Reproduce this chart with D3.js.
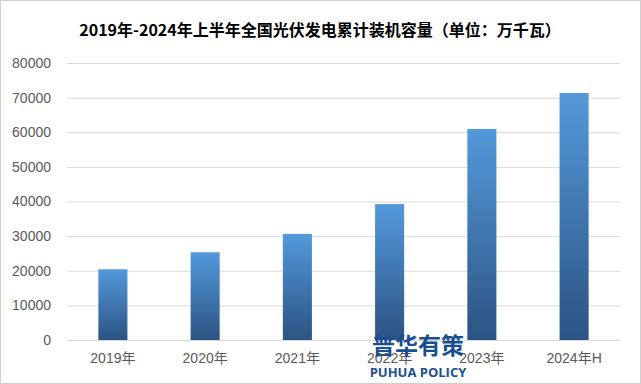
<!DOCTYPE html>
<html><head><meta charset="utf-8">
<script src="https://cdn.jsdelivr.net/npm/d3@7/dist/d3.min.js"></script>
<style>body{margin:0;background:#fff}svg{display:block}</style>
</head><body><svg id="c" width="641" height="384"></svg>
<script>
const categories = ["2019年","2020年","2021年","2022年","2023年","2024年H"];
const values = [20430, 25343, 30656, 39261, 60949, 71350];
const yTicks = [0,10000,20000,30000,40000,50000,60000,70000,80000];
const title = "2019年-2024年上半年全国光伏发电累计装机容量（单位：万千瓦）";

const svg = d3.select("#c");
const W = 641, H = 384;
const m = {left: 67, right: 21, top: 63, bottom: 44};
const x = d3.scaleBand().domain(categories).range([m.left, W - m.right]).paddingInner(0.685).paddingOuter(0.34);
const y = d3.scaleLinear().domain([0, 80000]).range([H - m.bottom, m.top]);

svg.append("rect").attr("x",0.5).attr("y",0.5).attr("width",W-1).attr("height",H-1)
  .attr("fill","#fff").attr("stroke","#d0d0d0");

const defs = svg.append("defs");
const g = defs.append("linearGradient").attr("id","bg").attr("x1",0).attr("y1",0).attr("x2",0).attr("y2",1);
g.append("stop").attr("offset","0%").attr("stop-color","#5399db");
g.append("stop").attr("offset","100%").attr("stop-color","#2c5383");

svg.append("text").attr("x", 320).attr("y", 36).attr("text-anchor","middle")
  .attr("font-family","'Noto Sans CJK SC', sans-serif").attr("font-weight","bold")
  .attr("font-size",16).attr("fill","#000").text(title);

const yAxis = d3.axisLeft(y).tickValues(yTicks).tickSize(-(W - m.left - m.right)).tickPadding(16).tickFormat(d3.format("d"));
const ya = svg.append("g").attr("transform",`translate(${m.left},0)`).call(yAxis);
ya.select(".domain").remove();
ya.selectAll(".tick line").attr("stroke","#d9d9d9");
ya.selectAll(".tick text").attr("fill","#595959").attr("font-size",14)
  .attr("font-family","'Liberation Sans', Arial, sans-serif");

svg.append("g").selectAll("rect").data(values).join("rect")
  .attr("x",(d,i)=>x(categories[i])).attr("width",x.bandwidth())
  .attr("y",d=>y(d)).attr("height",d=>y(0)-y(d)).attr("fill","url(#bg)");

const xAxis = d3.axisBottom(x).tickSize(0).tickPadding(13);
const xa = svg.append("g").attr("transform",`translate(0,${y(0)})`).call(xAxis);
xa.select(".domain").remove();
xa.selectAll(".tick text").attr("fill","#595959").attr("font-size",14)
  .attr("font-family","'Liberation Sans','Noto Sans CJK SC', sans-serif");

const wm = svg.append("g").attr("fill","#1a4f8f").attr("font-weight","bold");
wm.append("text").attr("x",418).attr("y",354).attr("text-anchor","middle")
  .attr("font-family","'Noto Sans CJK SC', sans-serif").attr("font-size",23).text("普华有策");
wm.append("text").attr("x",418).attr("y",377).attr("text-anchor","middle")
  .attr("font-family","'Open Sans', sans-serif").attr("font-size",13).text("PUHUA POLICY");
</script></body></html>
